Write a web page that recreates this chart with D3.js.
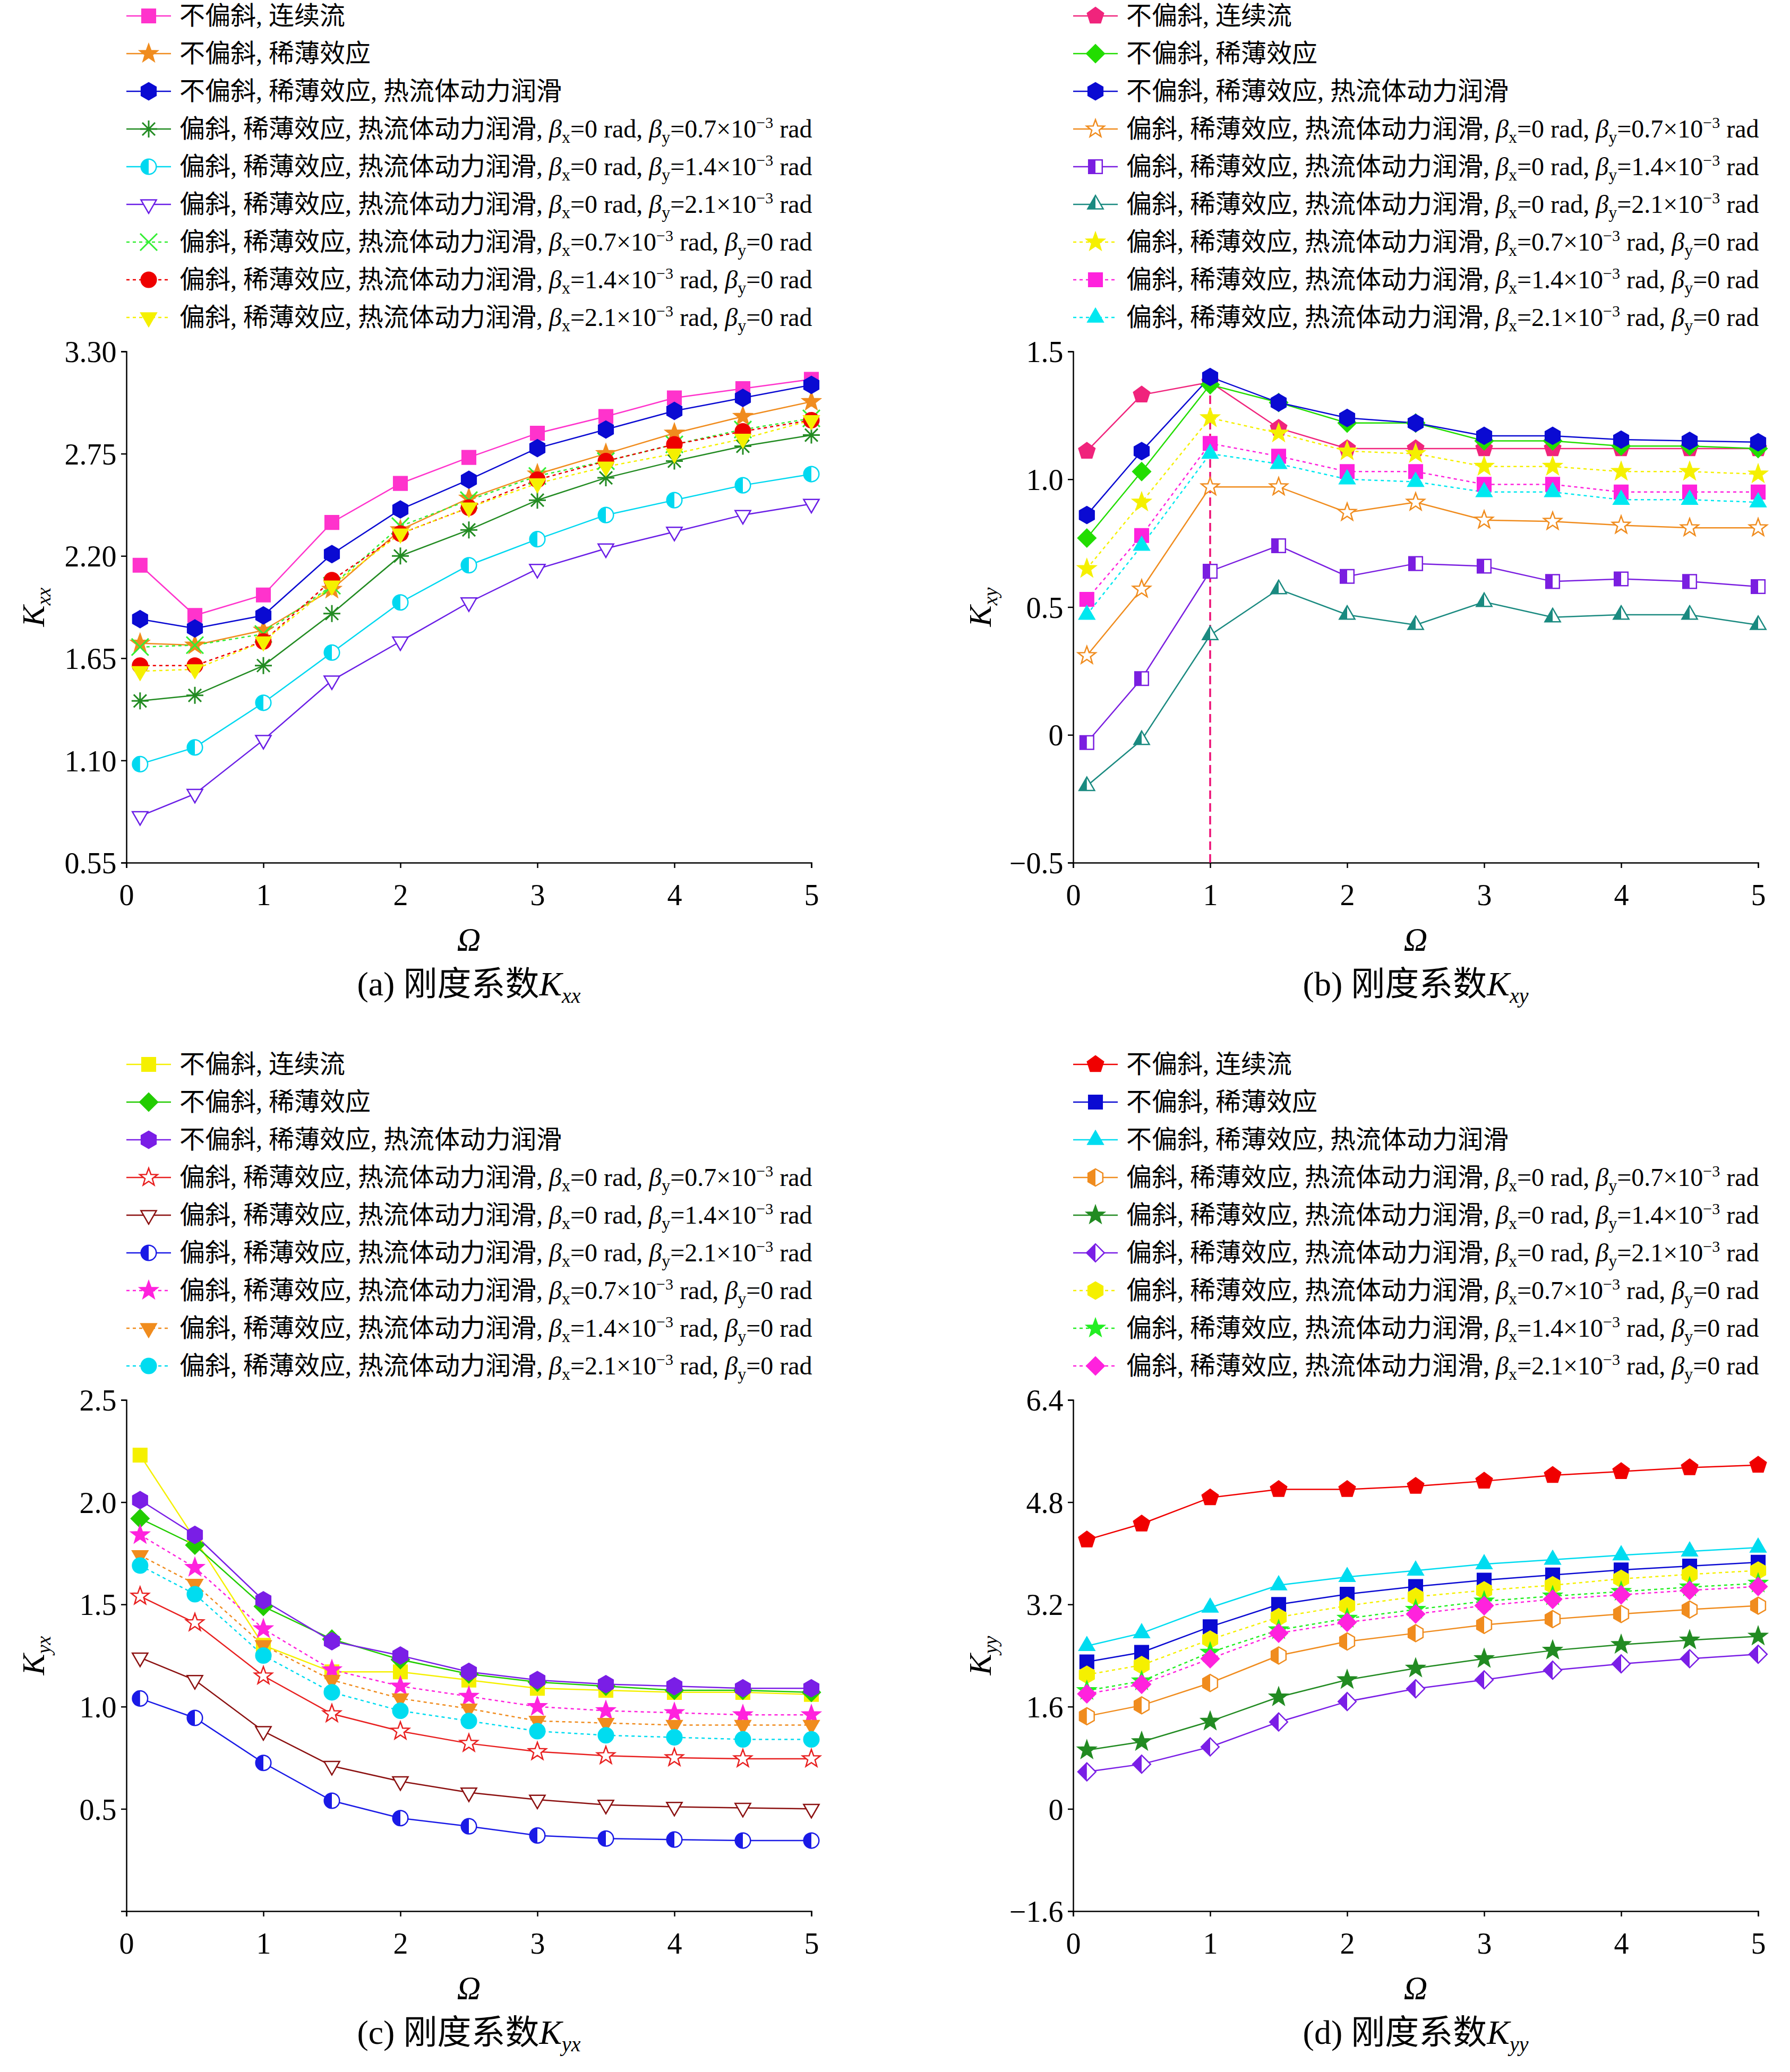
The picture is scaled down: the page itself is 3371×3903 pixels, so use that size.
<!DOCTYPE html>
<html><head><meta charset="utf-8">
<script src="https://cdn.jsdelivr.net/npm/d3@7"></script>
<style>body{margin:0;background:#fff}text{font-family:"Liberation Serif","Noto Sans CJK SC",serif}</style>
</head><body>
<svg id="c" width="3371" height="3903"></svg>
<script>
const omega = [0.1, 0.5, 1, 1.5, 2, 2.5, 3, 3.5, 4, 4.5, 5];
const xTicks = [0, 1, 2, 3, 4, 5];
const baseNames = ["不偏斜, 连续流", "不偏斜, 稀薄效应", "不偏斜, 稀薄效应, 热流体动力润滑"];
const tiltName = "偏斜, 稀薄效应, 热流体动力润滑";
const betaX = ["0 ", "0", "0", "0.7", "1.4", "2.1"];
const betaY = ["0.7", "1.4", "2.1", "0", "0", "0"];

const kxx = [
  [2.15,1.88,1.99,2.38,2.59,2.73,2.86,2.95,3.05,3.10,3.15],
  [1.73,1.72,1.80,2.02,2.34,2.51,2.64,2.75,2.86,2.95,3.03],
  [1.86,1.81,1.88,2.21,2.45,2.61,2.78,2.88,2.98,3.05,3.12],
  [1.42,1.45,1.61,1.89,2.20,2.34,2.50,2.62,2.71,2.79,2.85],
  [1.08,1.17,1.41,1.68,1.95,2.15,2.29,2.42,2.50,2.58,2.64],
  [0.80,0.92,1.21,1.53,1.74,1.95,2.13,2.24,2.33,2.42,2.48],
  [1.71,1.72,1.78,2.04,2.36,2.50,2.63,2.71,2.80,2.88,2.94],
  [1.61,1.61,1.74,2.07,2.32,2.46,2.61,2.71,2.80,2.87,2.93],
  [1.58,1.59,1.74,2.04,2.32,2.46,2.59,2.68,2.75,2.83,2.93]];
const kxy = [
  [1.11,1.33,1.38,1.20,1.12,1.12,1.12,1.12,1.12,1.12,1.12],
  [0.77,1.03,1.37,1.30,1.22,1.22,1.15,1.15,1.13,1.13,1.12],
  [0.86,1.11,1.40,1.30,1.24,1.22,1.17,1.17,1.155,1.15,1.145],
  [0.31,0.57,0.97,0.97,0.87,0.91,0.84,0.835,0.82,0.81,0.81],
  [-0.03,0.22,0.64,0.74,0.62,0.67,0.66,0.60,0.61,0.60,0.58],
  [-0.20,-0.02,0.39,0.57,0.47,0.43,0.52,0.46,0.47,0.47,0.43],
  [0.65,0.91,1.24,1.18,1.11,1.10,1.05,1.05,1.03,1.03,1.02],
  [0.53,0.78,1.14,1.09,1.03,1.03,0.98,0.98,0.95,0.95,0.95],
  [0.47,0.74,1.10,1.06,1.00,0.99,0.95,0.95,0.92,0.92,0.91]];
const kyx = [
  [2.23,1.82,1.30,1.17,1.17,1.13,1.09,1.08,1.07,1.07,1.06],
  [1.92,1.79,1.49,1.33,1.23,1.16,1.12,1.10,1.08,1.08,1.07],
  [2.01,1.84,1.52,1.32,1.25,1.17,1.13,1.11,1.10,1.09,1.09],
  [1.54,1.41,1.15,0.965,0.88,0.82,0.78,0.76,0.75,0.745,0.745],
  [1.24,1.13,0.88,0.71,0.635,0.58,0.545,0.52,0.51,0.505,0.50],
  [1.04,0.945,0.725,0.54,0.455,0.415,0.37,0.355,0.35,0.345,0.345],
  [1.84,1.68,1.38,1.18,1.10,1.05,1.00,0.98,0.97,0.96,0.96],
  [1.74,1.60,1.30,1.13,1.04,0.99,0.93,0.92,0.91,0.91,0.91],
  [1.69,1.55,1.25,1.07,0.98,0.93,0.88,0.86,0.85,0.84,0.84]];
const kyy = [
  [4.21,4.46,4.87,5.00,5.00,5.05,5.13,5.22,5.28,5.34,5.38],
  [2.30,2.45,2.85,3.20,3.36,3.48,3.58,3.66,3.74,3.80,3.86],
  [2.55,2.75,3.15,3.50,3.63,3.73,3.83,3.90,3.97,4.03,4.09],
  [1.45,1.62,1.97,2.40,2.62,2.75,2.88,2.97,3.05,3.12,3.18],
  [0.92,1.05,1.37,1.75,2.02,2.20,2.35,2.48,2.57,2.64,2.70],
  [0.58,0.70,0.97,1.36,1.68,1.88,2.02,2.17,2.27,2.35,2.42],
  [2.10,2.25,2.65,3.00,3.18,3.32,3.42,3.50,3.60,3.67,3.73],
  [1.85,2.00,2.45,2.80,2.98,3.12,3.25,3.33,3.40,3.47,3.53],
  [1.80,1.95,2.35,2.75,2.92,3.05,3.18,3.28,3.35,3.42,3.48]];

const yTicksA = [0.55,1.10,1.65,2.20,2.75,3.30];
const yTicksB = [-0.5,0,0.5,1.0,1.5];
const yTicksC = [0.5,1.0,1.5,2.0,2.5];
const yTicksD = [-1.6,0,1.6,3.2,4.8,6.4];

const panels = [
  {data:kxx, ox:238, oy:0, dom:[0.55,3.30], ticks:yTicksA, fmt:".2f", sub:"xx", cap:"(a) 刚度系数",
   colors:["#ff33cc","#f08c1e","#0a0ad2","#228b22","#00d8f0","#6a1ee6","#33ee33","#ee0000","#f5f000"],
   marks:["square","star","hexagon","asterisk","halfcircle","otridown","cross","circle","tridown"]},
  {data:kxy, ox:2021, oy:0, dom:[-0.5,1.5], ticks:yTicksB, fmt:".1f", sub:"xy", cap:"(b) 刚度系数",
   colors:["#f0247c","#22dd00","#0a0ad2","#f08c1e","#7a1ee0","#1a8a80","#f5f000","#ff22dd","#00e8f0"],
   marks:["pentagon","diamond","hexagon","ostar","halfsquare","halftri","star","square","triangle"]},
  {data:kyx, ox:238, oy:1975, dom:[0,2.5], ticks:yTicksC, fmt:".1f", sub:"yx", cap:"(c) 刚度系数",
   colors:["#f5f000","#22cc00","#7a1ee6","#e82020","#8b1010","#1a1ae6","#ff22dd","#f08c1e","#00dcf0"],
   marks:["square","diamond","hexagon","ostar","otridown","halfcircle","star","tridown","circle"]},
  {data:kyy, ox:2021, oy:1975, dom:[-1.6,6.4], ticks:yTicksD, fmt:".1f", sub:"yy", cap:"(d) 刚度系数",
   colors:["#f00000","#0a0ad2","#00dcf0","#f08c1e","#228b22","#7a1ee6","#f5f000","#22ee22","#ff22dd"],
   marks:["pentagon","square","triangle","halfhex","star","halfdiamond","hexagon","star","diamond"]}
];

const svg = d3.select("#c");
svg.append("rect").attr("width",3371).attr("height",3903).attr("fill","#fff");
svg.append("defs").append("clipPath").attr("id","lh").append("rect")
  .attr("x",-40).attr("y",-40).attr("width",40).attr("height",80);

const W = 1290, H = 963, R = 16;
function poly(n, r, rot) {
  return d3.range(n).map(i => { const a = rot + i*2*Math.PI/n; return [r*Math.cos(a), r*Math.sin(a)]; });
}
function shapePath(t) {
  const P = pts => "M" + pts.map(p => p.join(",")).join("L") + "Z";
  if (t==="square"||t==="halfsquare") return P([[-R*.8,-R*.8],[R*.8,-R*.8],[R*.8,R*.8],[-R*.8,R*.8]]);
  if (t==="circle"||t==="halfcircle") return d3.symbol(d3.symbolCircle, Math.PI*R*R*0.8)();
  if (t==="hexagon"||t==="halfhex") return P(poly(6, R, Math.PI/6));
  if (t==="pentagon") return P(poly(5, R, -Math.PI/2));
  if (t==="diamond"||t==="halfdiamond") return P(poly(4, R*1.05, 0));
  if (t==="triangle"||t==="halftri") return P(poly(3, R*1.05, -Math.PI/2));
  if (t==="tridown"||t==="otridown") return P(poly(3, R*1.05, Math.PI/2));
  if (t==="star"||t==="ostar") {
    const p = []; for (let i=0;i<10;i++){const a=-Math.PI/2+i*Math.PI/5, r=i%2?R*0.45:R*1.1; p.push([r*Math.cos(a),r*Math.sin(a)]);}
    return P(p);
  }
  if (t==="cross") return `M${-R},${-R}L${R},${R}M${-R},${R}L${R},${-R}`;
  if (t==="asterisk") return `M${-R},0L${R},0M0,${-R}L0,${R}M${-R*.75},${-R*.75}L${R*.75},${R*.75}M${-R*.75},${R*.75}L${R*.75},${-R*.75}`;
}
function drawMark(g, t, col) {
  const d = shapePath(t);
  const line = t==="cross"||t==="asterisk";
  const half = t.startsWith("half");
  const open = t.startsWith("o");
  g.append("path").attr("d", d)
    .attr("fill", line ? "none" : (half || open ? "#fff" : col))
    .attr("stroke", col).attr("stroke-width", line ? 3 : 2.5);
  if (half) g.append("path").attr("d", d).attr("fill", col).attr("clip-path", "url(#lh)");
}

panels.forEach((p, pi) => {
  const top = p.oy + 662;
  const x = d3.scaleLinear().domain([0,5]).range([p.ox, p.ox+W]);
  const y = d3.scaleLinear().domain(p.dom).range([top+H, top]);
  const g = svg.append("g");

  // legend
  p.colors.forEach((col, i) => {
    const ly = p.oy + 30 + i*71;
    const lg = g.append("g");
    lg.append("line").attr("x1", p.ox).attr("x2", p.ox+84).attr("y1", ly).attr("y2", ly)
      .attr("stroke", col).attr("stroke-width", 2.5).attr("stroke-dasharray", i>=6 ? "6,6" : null);
    drawMark(lg.append("g").attr("transform", `translate(${p.ox+42},${ly})`), p.marks[i], col);
    const t = lg.append("text").attr("x", p.ox+100).attr("y", ly+16).attr("font-size", 48);
    if (i < 3) { t.text(baseNames[i]); return; }
    const k = i - 3;
    const xExp = betaX[k].trim() !== "0";
    t.append("tspan").text(tiltName + ", ");
    t.append("tspan").attr("font-style","italic").text("β");
    t.append("tspan").attr("font-size",32).attr("dy",10).text("x");
    t.append("tspan").attr("dy",-10).text("=" + (xExp ? betaX[k] + "×10" : betaX[k]));
    if (xExp) t.append("tspan").attr("font-size",30).attr("dy",-18).text("−3");
    t.append("tspan").attr("dy", xExp ? 18 : 0).text(" rad, ");
    t.append("tspan").attr("font-style","italic").text("β");
    t.append("tspan").attr("font-size",32).attr("dy",10).text("y");
    t.append("tspan").attr("dy",-10).text("=" + (betaY[k]==="0" ? "0" : betaY[k] + "×10"));
    if (betaY[k] !== "0") { t.append("tspan").attr("font-size",30).attr("dy",-18).text("−3"); t.append("tspan").attr("dy",18).text(" rad"); }
    else t.append("tspan").text(" rad");
  });

  // axes
  const ax = g.append("g").attr("transform", `translate(0,${top+H})`)
    .call(d3.axisBottom(x).tickValues(xTicks).tickSize(10).tickFormat(d3.format("d")));
  const ay = g.append("g").attr("transform", `translate(${p.ox},0)`)
    .call(d3.axisLeft(y).tickValues(p.ticks).tickSize(10)
      .tickFormat(d => d===0 ? "0" : (d<0?"−":"") + d3.format(p.fmt)(Math.abs(d))));
  [ax, ay].forEach(a => {
    a.selectAll("path,line").attr("stroke","#000").attr("stroke-width",2.5);
    a.selectAll("text").attr("font-size",56).attr("fill","#000")
      .attr("font-family",'"Liberation Serif",serif');
  });
  ax.selectAll("text").attr("dy","1.2em");
  ay.selectAll("text").attr("dx","-0.1em").attr("dy","0.35em");

  // dashed vertical in (b)
  if (pi === 1) g.append("line").attr("x1", x(1)).attr("x2", x(1)).attr("y1", y(-0.5)).attr("y2", y(1.36))
    .attr("stroke","#ee1177").attr("stroke-width",3.5).attr("stroke-dasharray","16,8");

  // series
  const line = d3.line().x((d,j) => x(omega[j])).y(d => y(d));
  p.data.forEach((s, i) => {
    g.append("path").attr("d", line(s)).attr("fill","none").attr("stroke", p.colors[i])
      .attr("stroke-width", 2.5).attr("stroke-dasharray", i>=6 ? "6,6" : null);
  });
  p.data.forEach((s, i) => {
    s.forEach((v, j) => drawMark(g.append("g").attr("transform", `translate(${x(omega[j])},${y(v)})`), p.marks[i], p.colors[i]));
  });

  // labels
  g.append("text").attr("x", x(2.5)).attr("y", top+H+165).attr("text-anchor","middle")
    .attr("font-size",62).attr("font-style","italic").text("Ω");
  const yl = g.append("text").attr("transform", `translate(${p.ox-155},${top+H/2}) rotate(-90)`)
    .attr("text-anchor","middle").attr("font-size",60);
  yl.append("tspan").attr("font-style","italic").text("K");
  yl.append("tspan").attr("font-style","italic").attr("font-size",38).attr("dy",12).text(p.sub);
  const cp = g.append("text").attr("x", x(2.5)).attr("y", top+H+250).attr("text-anchor","middle").attr("font-size",64);
  cp.append("tspan").text(p.cap);
  cp.append("tspan").attr("font-style","italic").text("K");
  cp.append("tspan").attr("font-style","italic").attr("font-size",40).attr("dy",14).text(p.sub);
});
</script>
</body></html>
